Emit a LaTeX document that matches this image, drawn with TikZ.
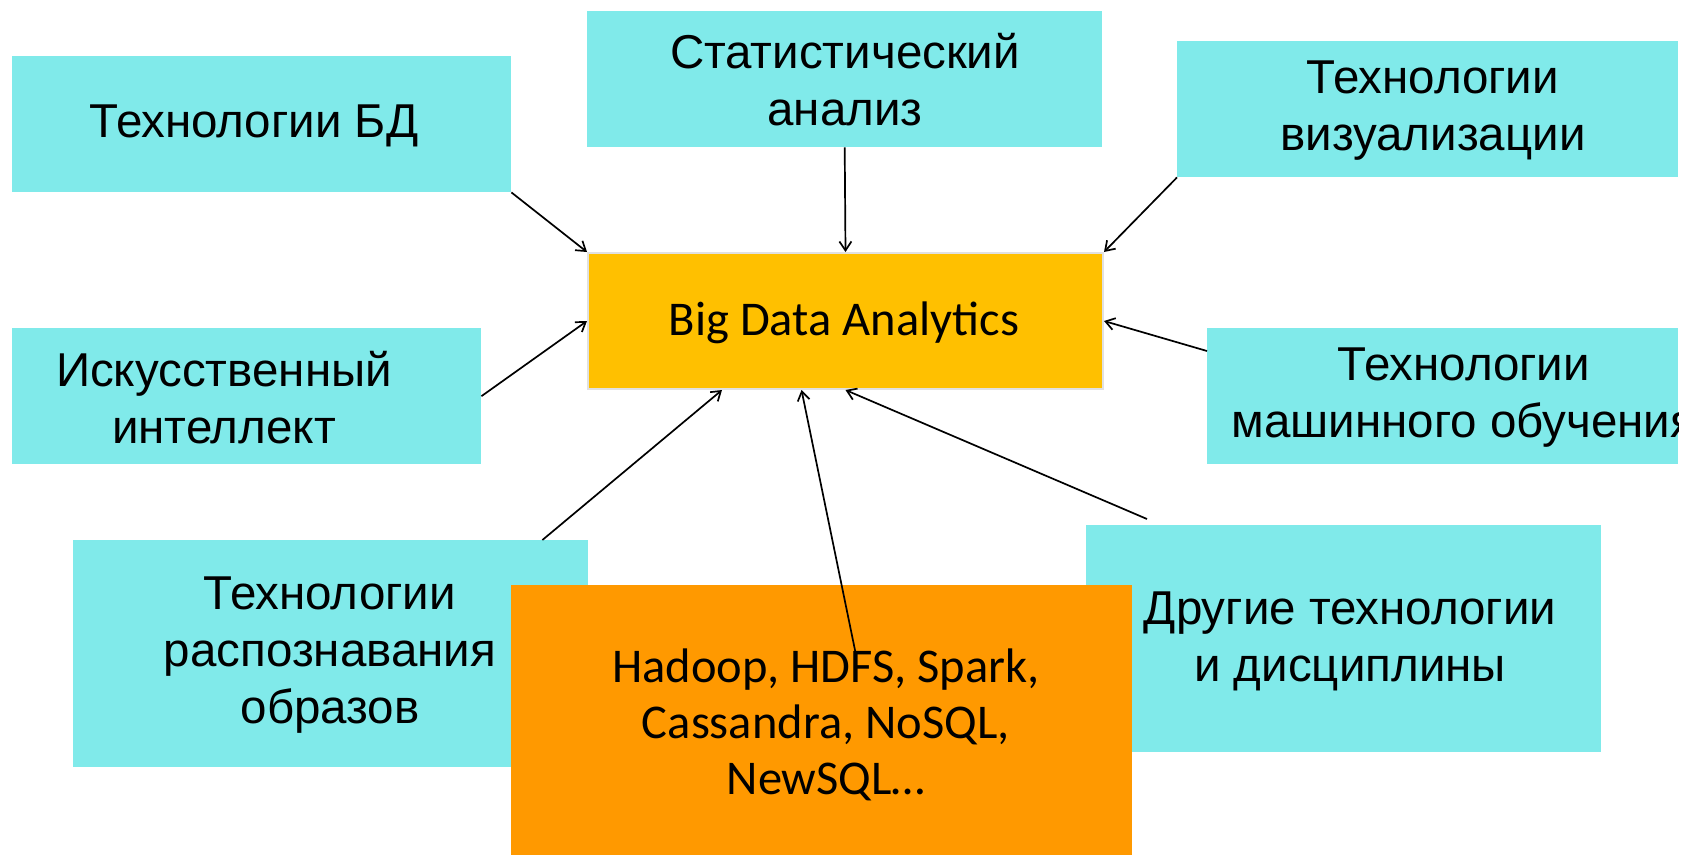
\documentclass[tikz,border=0pt]{standalone}
\usepackage{fontspec}
\setmainfont{Liberation Sans}
\newfontfamily\calibrifont{Carlito}
\usetikzlibrary{arrows.meta}
\definecolor{cyanbox}{RGB}{128,234,234}
\definecolor{bdyellow}{RGB}{255,192,0}
\definecolor{hadorange}{RGB}{255,153,0}
\definecolor{bdborder}{RGB}{225,225,225}
\begin{document}
\begin{tikzpicture}[x=1pt,y=-1pt,
  box/.style={fill=cyanbox, draw=none, inner sep=0pt, anchor=north west},
  txt/.style={align=center, inner sep=0pt, font=\fontsize{47.5}{57}\selectfont},
  ctxt/.style={align=center, inner sep=0pt, font=\calibrifont\fontsize{48.5}{56}\selectfont},
  conn/.style={line width=1.7pt, -{Straight Barb[length=9pt,width=12pt,line width=1.7pt]}}]
\useasboundingbox[fill=white] (0,0) rectangle (1683,855);

% cyan boxes
\node[box, minimum width=499pt, minimum height=136pt] (bd) at (12,56) {};
\node[box, minimum width=515pt, minimum height=136pt] (stat) at (587,11) {};
\node[box, minimum width=501pt, minimum height=136pt] (viz) at (1177,41) {};
\node[box, minimum width=469pt, minimum height=136pt] (ii) at (12,328) {};
\node[box, minimum width=471pt, minimum height=136pt] (ml) at (1207,328) {};
\node[box, minimum width=515pt, minimum height=227pt] (rasp) at (73,540) {};
\node[box, minimum width=515pt, minimum height=227pt] (other) at (1086,525) {};

% central box
\node[fill=bdyellow, draw=bdborder, line width=2pt, inner sep=0pt, anchor=north west,
      minimum width=515pt, minimum height=136pt] (big) at (587,252) {};

% texts
\node[txt] (tbd) at (254,126) {Технологии БД};
\node[txt] (tstat) at (845,80) {Статистический\\анализ};
\node[txt] (tviz) at (1433,111) {Технологии\\визуализации};
\node[txt] (tii) at (224,398) {Искусственный\\интеллект};
\begin{scope}
  \clip (ml.north west) rectangle (ml.south east);
  \node[txt] (tml) at (1464,398) {Технологии\\машинного обучения};
\end{scope}
\node[txt] (trasp) at (330,655) {Технологии\\распознавания\\образов};
\node[txt] (tother) at (1350,641) {Другие технологии\\и дисциплины};
\node[ctxt] (tbig) at (844,323) {Big Data Analytics};

% orange box on top
\node[fill=hadorange, inner sep=0pt, anchor=north west,
      minimum width=621pt, minimum height=270pt] (had) at (511,585) {};
\node[ctxt] (thad) at (826,725) {Hadoop, HDFS, Spark,\\Cassandra, NoSQL,\\NewSQL…};

% connectors
\coordinate (hs) at (856,655);
\coordinate (os) at (1147,519);
\draw[conn] (bd.south east) -- (big.north west);
\draw[conn] (stat.south) -- (big.north);
\draw[conn] (viz.south west) -- (big.north east);
\draw[conn] (ii.east) -- (big.west);
\draw[conn] ([yshift=-23pt]ml.north west) -- (big.east);
\draw[conn] ([xshift=-46pt]rasp.north east) -- ([xshift=135pt]big.south west);
\draw[conn] (hs) -- ([xshift=-44pt]big.south);
\draw[conn] (os) -- (big.south);
\end{tikzpicture}
\end{document}
